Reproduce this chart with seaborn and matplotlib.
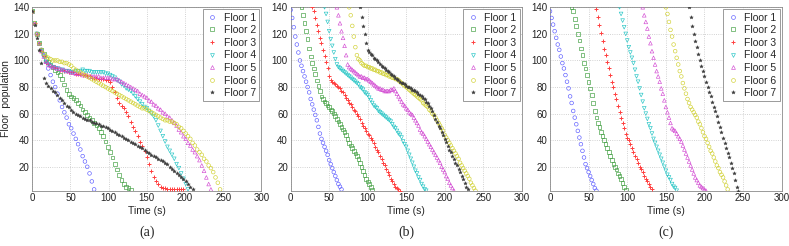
import numpy as np
import pandas as pd
import matplotlib
matplotlib.use('Agg')
import matplotlib.pyplot as plt
from matplotlib.lines import Line2D
import seaborn as sns

# Floor labels and drawing styles
floors = ['Floor 1', 'Floor 2', 'Floor 3', 'Floor 4', 'Floor 5', 'Floor 6', 'Floor 7']
colors = ['#5a5aff', '#3c9c3c', '#ff4040', '#22c4c4', '#d24ad2', '#d0d030', '#3c3c3c']
markers = ['o', 's', '+', 'v', '^', 'o', '*']

# (a) population read every 3 s, all floors starting at t = 0
step_a = 3
start_a = [0, 0, 0, 0, 0, 0, 0]
a1 = [137, 128, 120, 113, 108, 104, 99, 94, 89, 84, 80, 75, 70, 65, 61, 57, 52, 49, 45, 41,
      37, 33, 28, 24, 20, 15, 9, 3]
a2 = [137, 128, 120, 113, 108, 105, 101, 99, 97, 95, 93, 91, 89, 86, 82, 78, 75, 73, 72, 70,
      68, 66, 63, 61, 59, 57, 55, 53, 51, 49, 46, 43, 39, 35, 31, 27, 22, 18, 14, 10,
      7, 5, 4, 3]
a3 = [137, 128, 120, 113, 107, 103, 99, 97, 96, 95, 94, 94, 93, 93, 92, 92, 91, 91, 91, 90,
      90, 90, 89, 89, 88, 88, 87, 87, 87, 86, 86, 86, 85, 85, 84, 80, 76, 72, 68, 66,
      64, 61, 58, 54, 50, 47, 43, 39, 36, 32, 27, 22, 17, 12, 9, 7, 5, 4, 4, 3,
      3, 3, 3, 3, 3, 3, 3]
a4 = [137, 128, 120, 113, 107, 103, 99, 97, 96, 95, 94, 94, 93, 93, 92, 92, 92, 91, 91, 92,
      92, 92, 93, 92, 92, 92, 91, 91, 91, 91, 91, 91, 90, 90, 89, 88, 87, 85, 84, 82,
      81, 79, 78, 77, 75, 73, 71, 69, 67, 65, 64, 62, 60, 58, 55, 51, 47, 43, 39, 35,
      32, 29, 26, 22, 19, 15, 11, 7, 3]
a5 = [137, 128, 120, 113, 107, 103, 99, 97, 96, 95, 95, 94, 94, 93, 93, 92, 92, 91, 91, 90,
      90, 90, 89, 89, 89, 88, 88, 88, 88, 88, 87, 87, 87, 87, 87, 86, 86, 86, 85, 84,
      83, 82, 81, 80, 79, 78, 77, 75, 74, 73, 72, 70, 69, 67, 66, 64, 63, 61, 60, 58,
      57, 55, 53, 51, 48, 46, 43, 41, 38, 36, 33, 31, 28, 25, 21, 17, 12, 7, 3]
a6 = [137, 128, 120, 113, 108, 105, 103, 102, 101, 100, 100, 100, 99, 99, 98, 98, 97, 96, 94, 93,
      92, 91, 90, 89, 88, 87, 86, 85, 84, 83, 82, 81, 80, 79, 78, 77, 76, 75, 74, 73,
      72, 71, 70, 69, 68, 67, 66, 65, 64, 64, 63, 62, 61, 60, 59, 58, 57, 56, 55, 55,
      54, 54, 53, 52, 50, 49, 47, 45, 43, 41, 38, 36, 33, 31, 29, 26, 24, 21, 19, 16,
      12, 8, 3]
a7 = [137, 127, 117, 108, 98, 87, 83, 81, 79, 77, 76, 74, 72, 70, 68, 66, 65, 63, 61, 60,
      59, 58, 57, 56, 55, 55, 54, 53, 53, 52, 51, 51, 50, 49, 48, 47, 46, 45, 44, 43,
      42, 41, 40, 39, 38, 37, 36, 35, 34, 33, 31, 30, 29, 28, 27, 26, 25, 24, 23, 22,
      20, 18, 17, 15, 14, 12, 11, 9, 7, 5, 3]

# (b) population read every 2 s from each floor's first departure
step_b = 2
start_b = [0, 14, 28, 44, 60, 76, 90]
b1 = [138, 132, 125, 118, 112, 106, 100, 96, 92, 88, 84, 80, 76, 71, 67, 63, 59, 55, 50, 45,
      41, 38, 35, 32, 29, 25, 22, 19, 16, 13, 10, 7, 5, 3]
b2 = [140, 134, 128, 122, 116, 109, 103, 98, 94, 90, 85, 81, 77, 73, 71, 69, 68, 66, 65, 63,
      62, 60, 58, 56, 54, 52, 50, 48, 46, 44, 41, 38, 36, 34, 32, 30, 28, 26, 23, 20,
      17, 14, 11, 9, 7, 5, 3]
b3 = [140, 137, 132, 127, 122, 117, 113, 108, 103, 99, 94, 88, 85, 84, 83, 82, 81, 80, 79, 77,
      76, 74, 72, 70, 68, 67, 65, 63, 62, 60, 58, 56, 53, 51, 49, 47, 45, 44, 42, 40,
      38, 35, 33, 31, 28, 26, 23, 21, 18, 16, 14, 11, 9, 7, 5, 4, 3, 2]
b4 = [140, 135, 129, 122, 116, 111, 106, 101, 97, 95, 94, 93, 92, 91, 90, 89, 88, 87, 86, 85,
      84, 83, 82, 80, 79, 78, 76, 75, 74, 72, 70, 68, 66, 65, 64, 62, 61, 60, 59, 58,
      57, 56, 55, 54, 52, 50, 49, 47, 45, 44, 42, 39, 37, 35, 32, 29, 26, 23, 20, 17,
      15, 12, 10, 7, 5, 3, 2]
b5 = [140, 134, 128, 122, 117, 111, 104, 97, 95, 94, 93, 92, 91, 90, 89, 88, 88, 87, 87, 86,
      86, 85, 84, 83, 82, 81, 80, 79, 79, 78, 78, 77, 77, 77, 77, 78, 78, 79, 77, 75,
      73, 71, 69, 67, 66, 64, 63, 61, 60, 59, 57, 55, 53, 51, 48, 46, 45, 43, 41, 39,
      37, 35, 33, 31, 29, 27, 25, 23, 20, 18, 16, 13, 11, 8, 6, 4, 2]
b6 = [140, 134, 126, 118, 110, 104, 101, 100, 98, 97, 96, 96, 95, 95, 94, 94, 93, 93, 92, 92,
      91, 91, 90, 90, 89, 89, 88, 88, 87, 87, 86, 86, 85, 84, 83, 82, 81, 80, 79, 78,
      77, 76, 75, 74, 73, 72, 71, 70, 68, 67, 66, 65, 63, 62, 60, 59, 57, 55, 53, 51,
      49, 47, 44, 42, 40, 38, 36, 34, 32, 30, 28, 26, 23, 21, 19, 17, 15, 13, 11, 8,
      6, 4, 2]
b7 = [140, 133, 126, 120, 113, 108, 106, 105, 104, 102, 101, 100, 99, 97, 96, 95, 94, 93, 92, 91,
      90, 89, 88, 87, 86, 85, 84, 83, 83, 82, 81, 80, 80, 79, 78, 78, 77, 76, 75, 74,
      73, 72, 71, 69, 68, 66, 64, 62, 59, 56, 54, 51, 49, 46, 44, 41, 39, 36, 33, 31,
      28, 26, 23, 21, 18, 16, 13, 11, 8, 5, 3]

# (c) population read every 2 s from each floor's first departure
step_c = 2
start_c = [0, 28, 60, 90, 120, 150, 180]
c1 = [137, 132, 127, 122, 117, 112, 108, 103, 98, 94, 89, 84, 79, 73, 68, 62, 57, 52, 47, 42,
      37, 32, 27, 22, 19, 16, 13, 10, 7, 4, 2]
c2 = [140, 137, 131, 126, 120, 115, 109, 104, 98, 94, 89, 84, 79, 74, 68, 62, 57, 53, 50, 46,
      43, 40, 37, 34, 31, 28, 25, 22, 20, 18, 15, 13, 11, 8, 5, 3]
c3 = [139, 133, 127, 121, 115, 109, 104, 99, 94, 89, 84, 80, 75, 71, 66, 61, 57, 53, 49, 45,
      42, 40, 37, 34, 31, 28, 26, 23, 20, 18, 16, 13, 11, 9, 7, 5, 3]
c4 = [140, 135, 130, 125, 120, 115, 110, 106, 102, 98, 93, 88, 84, 79, 74, 69, 64, 60, 56, 52,
      49, 45, 41, 38, 35, 32, 29, 26, 23, 20, 17, 14, 12, 10, 7, 5, 4, 2]
c5 = [140, 134, 129, 124, 118, 113, 107, 102, 97, 92, 88, 84, 79, 75, 70, 65, 61, 57, 53, 49,
      48, 47, 45, 43, 41, 39, 36, 33, 30, 27, 24, 21, 18, 15, 12, 10, 8, 6, 5, 4,
      3, 2]
c6 = [140, 135, 129, 123, 118, 112, 107, 102, 97, 92, 88, 83, 79, 75, 71, 68, 65, 63, 61, 59,
      57, 54, 52, 49, 46, 43, 41, 38, 35, 32, 30, 27, 24, 21, 19, 16, 14, 12, 9, 6,
      3]
c7 = [140, 133, 126, 120, 115, 110, 105, 100, 96, 92, 88, 84, 80, 76, 73, 69, 65, 62, 58, 54,
      50, 46, 42, 38, 34, 30, 27, 23, 19, 15, 10, 5, 2]

panels = [
    ('(a)', step_a, start_a, [a1, a2, a3, a4, a5, a6, a7]),
    ('(b)', step_b, start_b, [b1, b2, b3, b4, b5, b6, b7]),
    ('(c)', step_c, start_c, [c1, c2, c3, c4, c5, c6, c7]),
]

sns.set_style('whitegrid')
plt.rcParams['font.family'] = ['Liberation Sans', 'DejaVu Sans']

fig = plt.figure(figsize=(7.89, 2.46), dpi=100)
lefts = [0.0409, 0.3684, 0.6971]
widths = [0.2903, 0.2928, 0.2937]

# legend entries drawn with the same marker looks as the points
handles = []
for i in range(7):
    mk = markers[i]
    open_mk = mk not in ('+', '*')
    handles.append(Line2D([], [], linestyle='', marker=mk, color=colors[i],
                          markeredgecolor=colors[i],
                          markerfacecolor='none' if open_mk else colors[i],
                          markersize=3.4 if mk == '+' else 2.8,
                          markeredgewidth=0.7 if mk == '+' else (0.45 if open_mk else 0.3)))

for k, (tag, step, starts, series) in enumerate(panels):
    ax = fig.add_axes([lefts[k], 0.2248, widths[k], 0.7455])
    for i, vals in enumerate(series):
        df = pd.DataFrame({'time': starts[i] + step * np.arange(len(vals)), 'pop': vals})
        mk = markers[i]
        if mk == '+':
            style = dict(s=10, facecolor=colors[i], linewidth=0.7)
        elif mk == '*':
            style = dict(s=7, facecolor=colors[i], linewidth=0.3)
        else:
            style = dict(s=7, facecolor='none', linewidth=0.45)
        sns.scatterplot(data=df, x='time', y='pop', ax=ax, legend=False,
                        marker=mk, color=colors[i], edgecolor=colors[i],
                        zorder=3, **style)
    ax.set_xlim(0, 300)
    ax.set_ylim(2, 140)
    ax.set_xticks([0, 50, 100, 150, 200, 250, 300])
    ax.set_yticks([20, 40, 60, 80, 100, 120, 140])
    ax.grid(True, linestyle=':', color='#c4c4c4', linewidth=0.6)
    ax.tick_params(axis='both', labelsize=7, colors='#222222', direction='in',
                   length=2.5, width=0.5, pad=2)
    for sp in ax.spines.values():
        sp.set_color('#8a8a8a')
        sp.set_linewidth(0.6)
    ax.set_xlabel('Time (s)', fontsize=7.5, labelpad=2)
    if k == 0:
        ax.set_ylabel('Floor  population', fontsize=7.5, labelpad=1.5)
    else:
        ax.set_ylabel('')
    leg = ax.legend(handles, floors, loc='upper right', fontsize=7.5, frameon=True,
                    fancybox=False, framealpha=1, edgecolor='#8a8a8a', borderpad=0.3,
                    labelspacing=0.25, handlelength=1.2, handletextpad=0.5,
                    borderaxespad=0.2)
    leg.get_frame().set_linewidth(0.6)
    fig.text(lefts[k] + widths[k] / 2, 0.055, tag, ha='center', va='center',
             fontsize=10, family='Liberation Serif')

fig.savefig('out.png', dpi=100)
